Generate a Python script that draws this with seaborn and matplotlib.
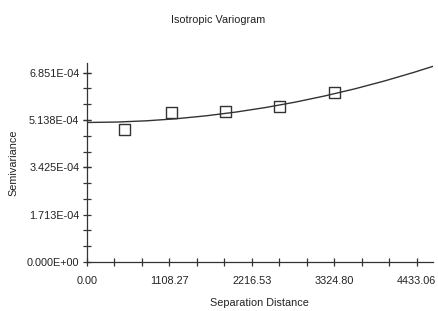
import matplotlib
matplotlib.use("Agg")
import matplotlib.pyplot as plt
from matplotlib.ticker import AutoMinorLocator, FormatStrFormatter, FuncFormatter
import seaborn as sns
import pandas as pd

lag_dist = [510, 1142, 1867, 2593, 3332]
semivar = [4.785e-4, 5.40e-4, 5.44e-4, 5.62e-4, 6.13e-4]

# Fitted model curve
model_dist = [0, 400, 800, 1200, 1600, 2000, 2400, 2800, 3200, 3600, 4000, 4400, 4650]
model_semivar = [5.050e-4, 5.065e-4, 5.110e-4, 5.185e-4, 5.291e-4, 5.426e-4, 5.591e-4,
                 5.787e-4, 6.013e-4, 6.268e-4, 6.554e-4, 6.870e-4, 7.083e-4]

x_ticks = [0.00, 1108.27, 2216.53, 3324.80, 4433.06]
y_ticks = [0.0, 1.713e-4, 3.425e-4, 5.138e-4, 6.851e-4]

points_df = pd.DataFrame({"dist": lag_dist, "gamma": semivar})
model_df = pd.DataFrame({"dist": model_dist, "gamma": model_semivar})

sns.set_style("ticks")
plt.rcParams["font.family"] = ["Liberation Sans", "DejaVu Sans"]

text_col = "#222222"
fs = 7.8

fig = plt.figure(figsize=(4.39, 3.11), dpi=100)
ax = fig.add_axes([0.198, 0.158, 0.788, 0.639])

sns.lineplot(data=model_df, x="dist", y="gamma", ax=ax, color="#333333", linewidth=1.0)
sns.scatterplot(data=points_df, x="dist", y="gamma", ax=ax, marker="s", s=65,
                facecolor="none", edgecolor="#333333", linewidth=1.0, zorder=3)

ax.set_xlim(0, 4650)
ax.set_ylim(0, 7.2e-4)
ax.set_xticks(x_ticks)
ax.set_yticks(y_ticks)
ax.xaxis.set_major_formatter(FormatStrFormatter("%.2f"))
ax.yaxis.set_major_formatter(FuncFormatter(lambda v, p: format(v, ".3E")))
ax.xaxis.set_minor_locator(AutoMinorLocator(3))
ax.yaxis.set_minor_locator(AutoMinorLocator(3))
ax.tick_params(which="both", direction="inout", length=6, width=0.9, color="#333333",
               labelsize=fs, labelcolor=text_col)
ax.tick_params(axis="x", which="major", pad=7)
ax.tick_params(axis="y", which="major", pad=2.5)

for side in ["top", "right"]:
    ax.spines[side].set_visible(False)
for side in ["left", "bottom"]:
    ax.spines[side].set_color("#333333")
    ax.spines[side].set_linewidth(0.9)

ax.set_xlabel("Separation Distance", fontsize=fs, color=text_col, labelpad=9)
ax.set_ylabel("Semivariance", fontsize=fs, color=text_col, labelpad=6)
fig.text(0.497, 0.935, "Isotropic Variogram", ha="center", va="center",
         fontsize=fs, color=text_col)

fig.savefig("out.png", dpi=100)
plt.close(fig)
